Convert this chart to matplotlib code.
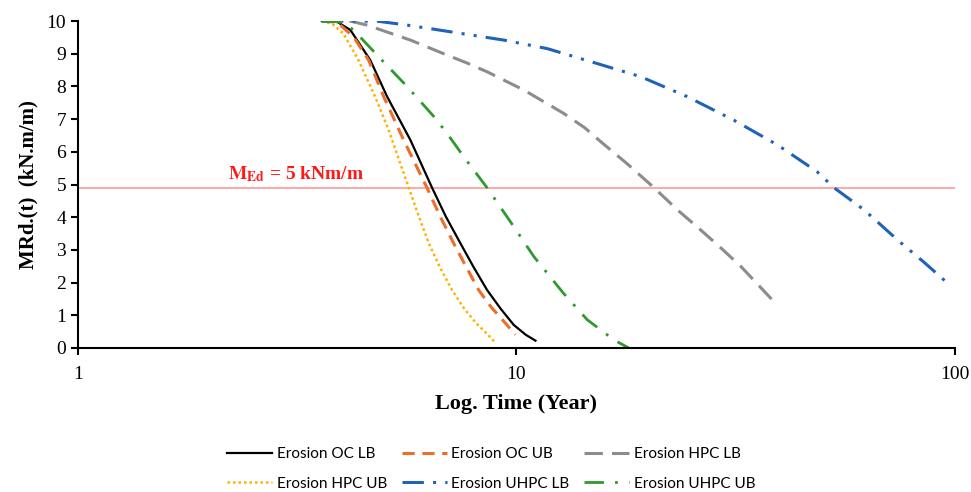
import numpy as np
import matplotlib.pyplot as plt

# ---------------------------------------------------------------------------
# Data (x = time in years, y = MRd in kN.m/m)
# ---------------------------------------------------------------------------
oc_lb_t = [3.6, 3.9, 4.18, 4.64, 5.07, 5.73, 6.42, 6.9, 7.45, 8.0, 8.57, 9.2, 9.86, 10.5, 11.05]
oc_lb_m = [10.0, 9.98, 9.73, 8.81, 7.69, 6.36, 4.9, 4.02, 3.2, 2.45, 1.77, 1.2, 0.70, 0.40, 0.22]

oc_ub_t = [3.6, 3.9, 4.25, 4.6, 4.98, 5.53, 6.25, 6.7, 7.19, 7.7, 8.2, 8.75, 9.3, 9.95]
oc_ub_m = [10.0, 9.97, 9.52, 8.81, 7.69, 6.36, 4.9, 4.02, 3.2, 2.45, 1.77, 1.25, 0.85, 0.4]

hpc_ub_t = [3.6, 3.8, 4.03, 4.36, 4.76, 5.11, 5.68, 5.98, 6.31, 6.7, 7.13, 7.6, 8.1, 8.57, 8.96]
hpc_ub_m = [10.0, 9.92, 9.62, 8.81, 7.69, 6.67, 4.9, 4.05, 3.2, 2.45, 1.77, 1.2, 0.75, 0.43, 0.15]

hpc_lb_t = [3.6, 4.18, 4.56, 5.73, 6.95, 7.71, 8.57, 10.4, 12.8, 14.3, 15.6, 17.9, 20.6, 23.3, 26.3, 29.3, 32.5, 38.0, 39.4]
hpc_lb_m = [10.0, 10.0, 9.88, 9.42, 8.96, 8.72, 8.45, 7.89, 7.18, 6.74, 6.3, 5.63, 4.9, 4.22, 3.61, 3.05, 2.49, 1.52, 1.31]

uhpc_lb_t = [3.6, 4.81, 5.63, 6.95, 9.36, 11.75, 15.3, 19.2, 24.5, 31.3, 39.4, 48.5, 53.0, 62.1, 74.0, 85.0, 96.2]
uhpc_lb_m = [10.0, 10.0, 9.88, 9.69, 9.42, 9.16, 8.70, 8.30, 7.69, 6.97, 6.21, 5.39, 4.9, 4.22, 3.30, 2.62, 1.98]

uhpc_ub_t = [3.6, 3.8, 4.03, 4.25, 4.89, 5.63, 6.48, 6.95, 7.58, 8.57, 9.86, 10.96, 12.8, 14.5, 16.7, 18.0]
uhpc_ub_m = [10.0, 10.0, 9.95, 9.73, 8.86, 8.0, 7.08, 6.56, 5.85, 4.9, 3.71, 2.79, 1.67, 0.86, 0.24, 0.0]

m_ed = 4.9

series = [
    ('Erosion OC LB', oc_lb_t, oc_lb_m, 'black', '-', 1.6),
    ('Erosion OC UB', oc_ub_t, oc_ub_m, '#ed6d2b', (0, (4, 2.5)), 2.2),
    ('Erosion HPC LB', hpc_lb_t, hpc_lb_m, '#8c8c8c', (0, (6, 3)), 2.2),
    ('Erosion HPC UB', hpc_ub_t, hpc_ub_m, '#ffb000', (0, (1, 1.2)), 1.8),
    ('Erosion UHPC LB', uhpc_lb_t, uhpc_lb_m, '#1f62b8', (0, (7, 3, 1, 3, 1, 3)), 2.2),
    ('Erosion UHPC UB', uhpc_ub_t, uhpc_ub_m, '#2e9a2e', (0, (7, 4, 1, 4)), 2.0),
]

plt.rcParams['font.family'] = 'Liberation Serif'
plt.rcParams['mathtext.fontset'] = 'stix'

fig = plt.figure(figsize=(9.71, 4.92), dpi=100)
ax = fig.add_axes([0.0803, 0.293, 0.9032, 0.664])

handles = {}
for name, t, m, col, ls, lw in series:
    line, = ax.plot(t, m, color=col, linestyle=ls, linewidth=lw, label=name)
    handles[name] = line

ax.axhline(m_ed, color='#ff9a9a', linewidth=1.2, zorder=1)
ax.text(2.2, m_ed + 0.12, r'$\mathbf{M}_{\mathbf{Ed}}$' + ' = 5 kNm/m', color='#ff1a1a',
        fontsize=14, fontweight='bold', va='bottom', ha='left')

ax.set_xscale('log')
ax.set_xlim(1, 100)
ax.set_ylim(0, 10)
ax.set_xticks([1, 10, 100])
ax.set_xticklabels(['1', '10', '100'])
ax.xaxis.set_minor_locator(plt.NullLocator())
ax.set_yticks(range(0, 11))

for side in ['top', 'right']:
    ax.spines[side].set_visible(False)
for side in ['left', 'bottom']:
    ax.spines[side].set_linewidth(1.5)
ax.tick_params(axis='both', direction='out', length=5, width=1.5, labelsize=14)
ax.tick_params(axis='x', pad=8)

ax.set_xlabel('Log. Time (Year)', fontsize=16, fontweight='bold', labelpad=8)
ax.set_ylabel('MRd.(t)  (kN.m/m)', fontsize=15, fontweight='bold', labelpad=6)

order = ['Erosion OC LB', 'Erosion HPC UB', 'Erosion OC UB',
         'Erosion UHPC LB', 'Erosion HPC LB', 'Erosion UHPC UB']
fig.legend([handles[n] for n in order], order, ncol=3, loc='center',
           bbox_to_anchor=(0.506, 0.047), frameon=False,
           prop={'family': 'Lato', 'size': 11}, handlelength=2.95,
           columnspacing=0.95, labelspacing=1.0, handletextpad=0.3)

fig.savefig('out.png', dpi=100)
